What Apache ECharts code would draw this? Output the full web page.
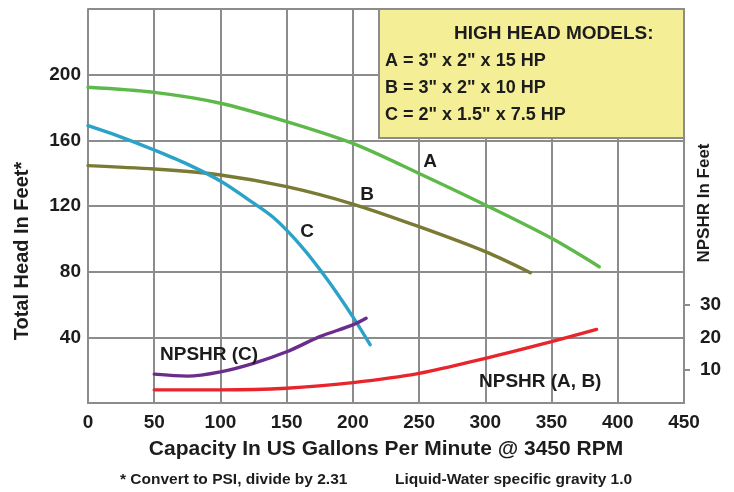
<!DOCTYPE html>
<html>
<head>
<meta charset="utf-8">
<script src="https://cdn.jsdelivr.net/npm/echarts@6/dist/echarts.min.js"></script>
<style>html,body{margin:0;padding:0;background:#fff}#chart{width:734px;height:492px}</style>
</head>
<body>
<div id="chart"></div>
<script>
// Capacity (US GPM) and total head (ft) for each pump curve
const capA = [0, 50, 100, 150, 200, 250, 300, 350, 386];
const headA = [192.3, 189.2, 182.6, 171.4, 158.1, 139.8, 120.6, 100.3, 83.0];
const capB = [0, 50, 100, 150, 200, 250, 300, 334];
const headB = [144.6, 142.5, 138.9, 131.8, 121.2, 107.4, 92.2, 79.4];
const capC = [0, 25, 50, 75, 100, 120, 140, 160, 180, 200, 213];
const headC = [168.9, 162, 154.1, 145.5, 135.2, 124.5, 113, 96.5, 76, 52.5, 35.5];
// NPSHR (ft) curves
const capNpshrC = [50, 75, 100, 125, 150, 175, 200, 210];
const npshrC = [8.8, 8.2, 9.5, 12.1, 15.6, 20.2, 23.8, 25.8];
const capNpshrAB = [50, 100, 150, 200, 250, 300, 350, 384];
const npshrAB = [4.0, 4.0, 4.5, 6.2, 9.0, 13.6, 18.7, 22.4];
// Tick labels
const headTicks = [40, 80, 120, 160, 200];
const npshrTicks = [10, 20, 30];
const npshrTickMarks = [10, 30];
const legendTitle = 'HIGH HEAD MODELS:';
const legendLines = ['A = 3" x 2" x 15 HP', 'B = 3" x 2" x 10 HP', 'C = 2" x 1.5" x 7.5 HP'];

const FONT = "'Liberation Sans', Arial, Helvetica, sans-serif";
const TXT = '#1c1c1c';
const GRID = '#8c8c8c';

function pairs(xs, ys) { return xs.map((x, i) => [x, ys[i]]); }

const chart = echarts.init(document.getElementById('chart'), null, { renderer: 'canvas' });

function txt(text, x, y, size, align, rot) {
  return {
    type: 'text', x: x, y: y, rotation: rot || 0, z: 100,
    style: { text: text, fill: TXT, font: 'bold ' + size + 'px ' + FONT,
      align: align || 'left', verticalAlign: 'middle' }
  };
}

const graphics = [
  { type: 'rect', shape: { x: 379, y: 9, width: 305, height: 129 }, z: 50,
    style: { fill: '#f4ef97', stroke: GRID, lineWidth: 2 } },
  txt(legendTitle, 454, 34, 19, 'left'),
  txt(legendLines[0], 385, 61, 18, 'left'),
  txt(legendLines[1], 385, 88, 18, 'left'),
  txt(legendLines[2], 385, 115, 18, 'left'),
  txt('Total Head In Feet*', 22, 251, 20, 'center', Math.PI / 2),
  txt('NPSHR In Feet', 704, 203, 17, 'center', Math.PI / 2),
  txt('A', 430, 162, 19, 'center'),
  txt('B', 367, 195, 19, 'center'),
  txt('C', 307, 232, 19, 'center'),
  txt('NPSHR (C)', 160, 355, 19, 'left'),
  txt('NPSHR (A, B)', 479, 382, 19, 'left'),
  txt('* Convert to PSI, divide by 2.31', 120, 480, 15.5, 'left'),
  txt('Liquid-Water specific gravity 1.0', 395, 480, 15.5, 'left')
];

function line(name, data, color, yAxisIndex) {
  return {
    name: name, type: 'line', data: data, yAxisIndex: yAxisIndex || 0,
    smooth: 0.3, showSymbol: false, symbol: 'none', z: 10,
    lineStyle: { color: color, width: 3.4, cap: 'round' }
  };
}

chart.setOption({
  animation: false,
  backgroundColor: '#ffffff',
  grid: { left: 88, top: 9, right: 50, bottom: 89, containLabel: false },
  xAxis: {
    type: 'value', min: 0, max: 450, interval: 50,
    name: 'Capacity In US Gallons Per Minute @ 3450 RPM',
    nameLocation: 'middle', nameGap: 36,
    nameTextStyle: { color: TXT, fontWeight: 'bold', fontSize: 21, fontFamily: FONT },
    axisLine: { show: true, lineStyle: { color: GRID, width: 2 } },
    axisTick: { show: false },
    axisLabel: { color: TXT, fontWeight: 'bold', fontSize: 19, fontFamily: FONT, margin: 10 },
    splitLine: { show: true, lineStyle: { color: GRID, width: 2 } }
  },
  yAxis: [
    {
      type: 'value', min: 0, max: 240, interval: 40, position: 'left',
      axisLine: { show: true, lineStyle: { color: GRID, width: 2 } },
      axisTick: { show: false },
      axisLabel: { color: TXT, fontWeight: 'bold', fontSize: 19, fontFamily: FONT, margin: 7,
        customValues: headTicks },
      splitLine: { show: true, lineStyle: { color: GRID, width: 2 } }
    },
    {
      type: 'value', min: 0, max: 120, interval: 10, position: 'right',
      axisLine: { show: true, lineStyle: { color: GRID, width: 2 } },
      axisTick: { show: true, inside: false, length: 6, lineStyle: { color: GRID, width: 2 },
        customValues: npshrTickMarks },
      axisLabel: { color: TXT, fontWeight: 'bold', fontSize: 19, fontFamily: FONT, margin: 16,
        customValues: npshrTicks },
      splitLine: { show: false }
    }
  ],
  series: [
    line('A', pairs(capA, headA), '#5db94a'),
    line('B', pairs(capB, headB), '#7b7a34'),
    line('C', pairs(capC, headC), '#2ba2c8'),
    line('NPSHR (C)', pairs(capNpshrC, npshrC), '#6a2d8c', 1),
    line('NPSHR (A, B)', pairs(capNpshrAB, npshrAB), '#e8252b', 1)
  ],
  graphic: graphics
});
</script>
</body>
</html>
